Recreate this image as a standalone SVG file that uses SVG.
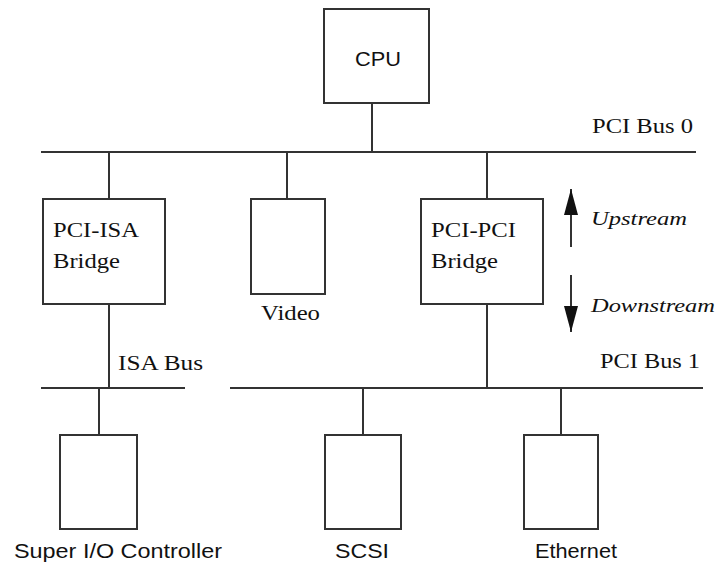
<svg xmlns="http://www.w3.org/2000/svg" width="720" height="565" viewBox="0 0 720 565">
<defs>
<style>
.box{fill:#fff;stroke:#333;stroke-width:2}
.ln{stroke:#333;stroke-width:2;fill:none}
.sr{font-family:"Liberation Serif","DejaVu Serif",serif;font-size:20px;fill:#111}
.ss{font-family:"Liberation Sans","DejaVu Sans",sans-serif;font-size:20px;fill:#111}
.it{font-family:"Liberation Serif","DejaVu Serif",serif;font-style:italic;font-size:19px;fill:#111}
</style>
<marker id="ah" viewBox="0 0 26 14" refX="26" refY="7" markerWidth="26" markerHeight="14" markerUnits="userSpaceOnUse" orient="auto">
<path d="M0,0 L26,7 L0,14 z" fill="#111"/>
</marker>
</defs>
<rect width="720" height="565" fill="#fff"/>
<g id="connectors">
<line class="ln" x1="372" y1="103" x2="372" y2="152"/>
<line class="ln" x1="41" y1="152" x2="696" y2="152"/>
<line class="ln" x1="109" y1="152" x2="109" y2="199"/>
<line class="ln" x1="287" y1="152" x2="287" y2="199"/>
<line class="ln" x1="487" y1="152" x2="487" y2="199"/>
<line class="ln" x1="109" y1="304" x2="109" y2="388"/>
<line class="ln" x1="41" y1="388" x2="185" y2="388"/>
<line class="ln" x1="230" y1="388" x2="703" y2="388"/>
<line class="ln" x1="487" y1="304" x2="487" y2="388"/>
<line class="ln" x1="99" y1="388" x2="99" y2="435"/>
<line class="ln" x1="363" y1="388" x2="363" y2="435"/>
<line class="ln" x1="561" y1="388" x2="561" y2="435"/>
<line class="ln" x1="571" y1="247" x2="571" y2="189" marker-end="url(#ah)"/>
<line class="ln" x1="571" y1="275" x2="571" y2="332" marker-end="url(#ah)"/>
</g>
<g id="cpu">
<rect class="box" x="324" y="9" width="105" height="94"/>
<text class="ss" x="355" y="66" textLength="46" lengthAdjust="spacingAndGlyphs">CPU</text>
</g>
<g id="pci-bus-0-label">
<text class="sr" x="592" y="133" textLength="101" lengthAdjust="spacingAndGlyphs">PCI Bus 0</text>
</g>
<g id="pci-isa-bridge">
<rect class="box" x="43" y="199" width="122" height="105"/>
<text class="sr" x="53" y="237" textLength="86" lengthAdjust="spacingAndGlyphs">PCI-ISA</text>
<text class="sr" x="53" y="268" textLength="67" lengthAdjust="spacingAndGlyphs">Bridge</text>
</g>
<g id="video">
<rect class="box" x="251" y="199" width="74" height="95"/>
<text class="sr" x="261" y="320" textLength="59" lengthAdjust="spacingAndGlyphs">Video</text>
</g>
<g id="pci-pci-bridge">
<rect class="box" x="421" y="199" width="122" height="105"/>
<text class="sr" x="431" y="237" textLength="85" lengthAdjust="spacingAndGlyphs">PCI-PCI</text>
<text class="sr" x="431" y="268" textLength="67" lengthAdjust="spacingAndGlyphs">Bridge</text>
</g>
<g id="direction-labels">
<text class="it" x="591" y="225" textLength="96" lengthAdjust="spacingAndGlyphs">Upstream</text>
<text class="it" x="591" y="312" textLength="124" lengthAdjust="spacingAndGlyphs">Downstream</text>
</g>
<g id="isa-bus-label">
<text class="sr" x="118" y="370" textLength="85" lengthAdjust="spacingAndGlyphs">ISA Bus</text>
</g>
<g id="pci-bus-1-label">
<text class="sr" x="600" y="368" textLength="100" lengthAdjust="spacingAndGlyphs">PCI Bus 1</text>
</g>
<g id="super-io">
<rect class="box" x="60" y="435" width="77" height="94"/>
<text class="ss" x="14" y="558" textLength="208" lengthAdjust="spacingAndGlyphs">Super I/O Controller</text>
</g>
<g id="scsi">
<rect class="box" x="325" y="435" width="76" height="94"/>
<text class="ss" x="335" y="558" textLength="54" lengthAdjust="spacingAndGlyphs">SCSI</text>
</g>
<g id="ethernet">
<rect class="box" x="524" y="435" width="74" height="94"/>
<text class="ss" x="535" y="558" textLength="82" lengthAdjust="spacingAndGlyphs">Ethernet</text>
</g>
</svg>
